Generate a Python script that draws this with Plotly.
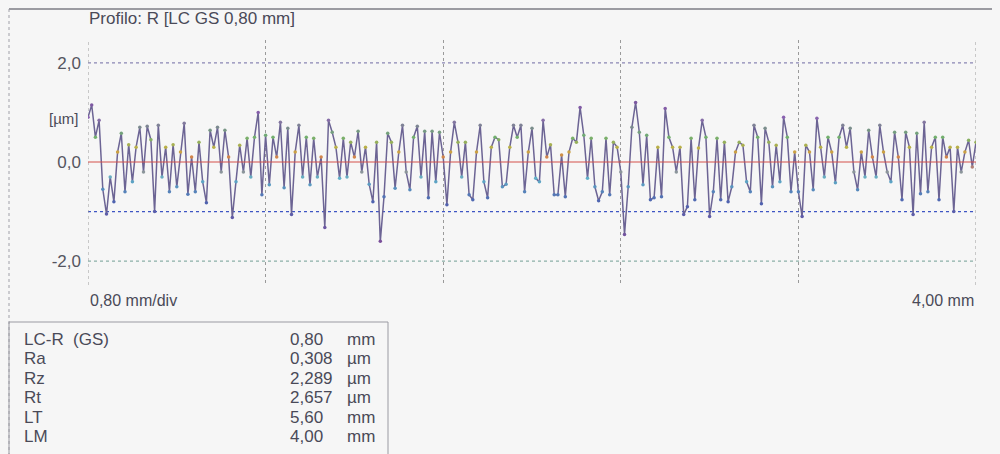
import numpy as np
import plotly.graph_objects as go

# ---- data ----
profile_um = [
    0.9, 1.15, 0.5, 0.84, -0.55, -1.05, -0.3, -0.8, 0.2, 0.58,
    -0.6, 0.35, -0.4, 0.3, 0.7, -0.2, 0.72, 0.45, -1.0, 0.74,
    -0.3, 0.3, -0.6, 0.35, -0.5, 0.2, 0.78, -0.65, 0.1, -0.6,
    0.4, -0.4, -0.82, 0.64, 0.3, 0.7, -0.2, 0.64, 0.1, -1.12,
    -0.4, 0.34, -0.2, 0.48, -0.3, 0.5, 1.0, -0.66, 0.54, -0.46,
    0.5, 0.1, 0.8, -0.52, 0.68, -1.06, 0.2, 0.74, -0.3, 0.5,
    -0.46, 0.48, -0.3, 0.1, -1.32, 0.84, 0.6, 0.3, -0.33, 0.48,
    -0.3, 0.4, 0.1, 0.62, -0.2, 0.3, -0.45, -0.8, 0.4, -1.6,
    -0.7, 0.58, 0.4, -0.53, 0.2, 0.74, -0.2, -0.56, 0.5, 0.72,
    -0.3, 0.62, -0.72, 0.62, -0.4, 0.6, 0.1, -0.86, 0.2, 0.8,
    0.4, -0.3, 0.4, -0.66, -0.76, 0.2, 0.74, -0.4, -0.72, 0.3,
    0.5, 0.45, -0.5, -0.45, 0.3, 0.74, 0.5, 0.74, -0.6, 0.2,
    0.68, -0.33, -0.4, 0.84, 0.1, 0.35, -0.66, -0.66, 0.14, -0.7,
    0.2, 0.48, 0.4, 1.1, 0.54, -0.33, 0.48, -0.5, -0.78, -0.6,
    0.48, -0.66, 0.4, 0.3, -0.2, -1.46, -0.5, 0.7, 1.2, 0.6,
    -0.46, 0.54, -0.76, -0.72, 0.3, -0.7, 1.08, 0.5, 0.3, -0.2,
    0.3, -1.06, -0.9, 0.48, -0.76, 0.28, 0.84, 0.5, -1.1, -0.6,
    0.48, -0.76, 0.4, -0.8, -0.5, 0.2, 0.4, 0.34, -0.4, -0.6,
    0.74, 0.5, -0.84, 0.68, 0.4, -0.5, 0.34, -0.4, 0.9, 0.5,
    -0.6, 0.2, -0.6, -1.1, 0.34, 0.2, -0.56, 0.88, 0.3, -0.3,
    0.5, 0.2, -0.42, 0.5, 0.74, 0.3, 0.68, -0.2, -0.56, 0.2,
    -0.3, 0.64, 0.1, -0.3, 0.74, 0.2, -0.2, -0.4, 0.6, 0.1,
    -0.76, 0.6, 0.3, -1.06, 0.58, -0.64, 0.8, -0.6, 0.3, 0.5,
    -0.76, 0.5, 0.1, 0.3, -1.0, 0.3, -0.2, 0.2, 0.44, -0.1,
    0.4,
]
length_mm = 4.00
div_mm = 0.80
y_ticks = [2.0, 0.0, -2.0]
y_ticktext = ["2,0", "0,0", "-2,0"]
ref_levels = [2.0, -1.0, -2.0]
ref_colors = ["#8a86b4", "#3f56c4", "#8cb0a8"]

table_labels = ["LC-R  (GS)", "Ra", "Rz", "Rt", "LT", "LM"]
table_values = ["0,80", "0,308", "2,289", "2,657", "5,60", "4,00"]
table_units = ["mm", "µm", "µm", "µm", "mm", "mm"]

x_mm = np.linspace(0, length_mm, len(profile_um))

# ---- geometry (page pixels; the page body adds an 8 px offset) ----
OFF = 8
W, H = 1000, 454
plot_left, plot_right, plot_top, plot_bottom = 88, 976, 40, 285  # page pixels
L = plot_left - OFF
T = plot_top - OFF
R = W - (plot_right - OFF)
B = H - (plot_bottom - OFF)
PW, PH = W - L - R, H - T - B


def px(xp):
    return (xp - OFF - L) / PW


def py(yp):
    return (H - B - (yp - OFF)) / PH


FONT = "Liberation Sans, Arial, sans-serif"
TXT = "#4a4a58"
BG = "#f6f6f6"

# scanner-like colour bands by height
band_scale = [
    [0.00, "#7a4f9a"], [0.25, "#4f63b0"], [0.40, "#5fb0c8"],
    [0.50, "#d86a50"], [0.58, "#c8b040"], [0.66, "#6fb070"],
    [0.78, "#8a62b0"], [1.00, "#6a4a8a"],
]

fig = go.Figure()
fig.add_trace(go.Scatter(
    x=x_mm, y=profile_um, mode="lines",
    line=dict(color="#6c6494", width=1.5),
    hoverinfo="skip", showlegend=False,
))
fig.add_trace(go.Scatter(
    x=x_mm, y=profile_um, mode="markers",
    marker=dict(size=3.5, color=profile_um, colorscale=band_scale,
                cmin=-1.6, cmax=1.6, line=dict(width=0)),
    hoverinfo="skip", showlegend=False,
))

shapes = []
for lvl, col in zip(ref_levels, ref_colors):
    shapes.append(dict(type="line", xref="paper", yref="y", x0=0, x1=1,
                       y0=lvl, y1=lvl, line=dict(color=col, width=1.2, dash="3px,3px"),
                       layer="below"))
# zero reference line (red)
shapes.append(dict(type="line", xref="paper", yref="y", x0=0, x1=1, y0=0, y1=0,
                   line=dict(color="#d4504a", width=1.2), layer="above"))
# left / right plot edges (dotted like the divisions)
for xe in [0.0, length_mm]:
    shapes.append(dict(type="line", xref="x", yref="paper", x0=xe, x1=xe, y0=0, y1=1,
                       line=dict(color="#9a9a9a", width=1, dash="dot"), layer="below"))
# page frame
shapes.append(dict(type="line", xref="paper", yref="paper", x0=px(9), x1=px(1000),
                   y0=py(9), y1=py(9), line=dict(color="#7c7c84", width=1.5)))
shapes.append(dict(type="line", xref="paper", yref="paper", x0=px(9), x1=px(9),
                   y0=py(9), y1=py(460), line=dict(color="#a0a0a8", width=1, dash="dot")))
# table box
shapes.append(dict(type="rect", xref="paper", yref="paper", x0=px(9), x1=px(388),
                   y0=py(322), y1=py(470), line=dict(color="#9a9aa2", width=1)))

annotations = [
    dict(text="Profilo: R [LC GS 0,80 mm]", xref="paper", yref="paper",
         x=px(87), y=py(18), xanchor="left", yanchor="middle", showarrow=False,
         font=dict(family=FONT, size=17, color=TXT)),
    dict(text="[µm]", xref="paper", yref="paper", x=px(80), y=py(118),
         xanchor="right", yanchor="middle", showarrow=False,
         font=dict(family=FONT, size=15, color=TXT)),
    dict(text="0,80 mm/div", xref="paper", yref="paper", x=px(88), y=py(300),
         xanchor="left", yanchor="middle", showarrow=False,
         font=dict(family=FONT, size=16, color=TXT)),
    dict(text="4,00 mm", xref="paper", yref="paper", x=px(976), y=py(300),
         xanchor="right", yanchor="middle", showarrow=False,
         font=dict(family=FONT, size=16, color=TXT)),
]
row_y0, row_dy = 339, 19.5
for k, (lab, val, unit) in enumerate(zip(table_labels, table_values, table_units)):
    yy = py(row_y0 + k * row_dy)
    for txt, xx in [(lab, 22), (val, 288), (unit, 345)]:
        annotations.append(dict(text=txt, xref="paper", yref="paper", x=px(xx), y=yy,
                                xanchor="left", yanchor="middle", showarrow=False,
                                font=dict(family=FONT, size=17, color=TXT)))

fig.update_layout(
    width=W, height=H, autosize=False,
    margin=dict(l=L, r=R, t=T, b=B),
    paper_bgcolor=BG, plot_bgcolor=BG,
    shapes=shapes, annotations=annotations, showlegend=False,
    xaxis=dict(range=[0, length_mm], tick0=0, dtick=div_mm, showgrid=True,
               gridcolor="#9a9a9a", griddash="dot", gridwidth=1,
               showticklabels=False, ticks="", zeroline=False, showline=False),
    yaxis=dict(range=[-2.48, 2.46], tickvals=y_ticks, ticktext=y_ticktext,
               showgrid=False, zeroline=False, showline=False, ticks="",
               tickfont=dict(family=FONT, size=17, color="#55555f"),
               ticklabelstandoff=6),
)

fig.write_html("out.html",
               post_script="document.body.style.background='" + BG + "';")
